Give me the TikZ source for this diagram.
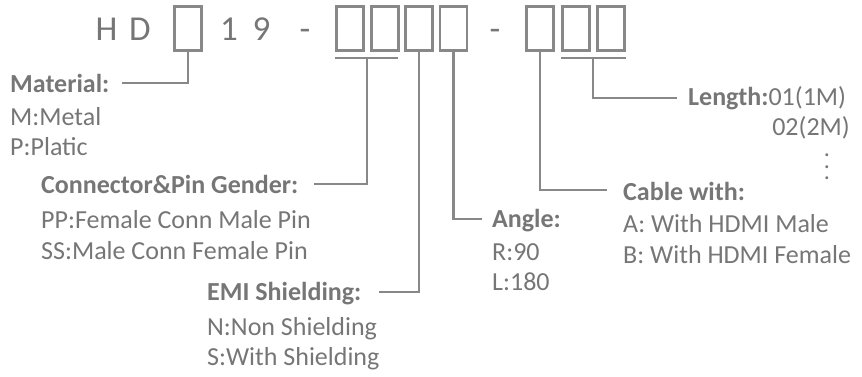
\documentclass[tikz,border=0pt]{standalone}
\usepackage{fontspec}
\setmainfont{Carlito}
\usetikzlibrary{positioning}
\definecolor{codegray}{HTML}{767676}
\definecolor{linegray}{HTML}{888888}

\tikzset{
  slot/.style={draw=linegray, line width=2.8pt, minimum width=27pt, minimum height=44pt, inner sep=0pt},
  lead/.style={draw=linegray, line width=2.2pt},
  code/.style={text=codegray, font=\fontsize{35}{35}\selectfont, inner sep=0pt, anchor=base},
  head/.style={text=codegray, font=\fontsize{26}{30}\selectfont\bfseries, inner sep=0pt, anchor=base west},
  item/.style={text=codegray, font=\fontsize{26}{30}\selectfont, inner sep=0pt, anchor=base west},
}

\begin{document}
\begin{tikzpicture}[x=1pt,y=-1pt]
    \useasboundingbox (0,0) rectangle (862,376);
    % part number
    \node[code] (h) at (106.5,40) {H};
    \node[code] (d) at (140,40) {D};
    \node[code] (one) at (229,40) {1};
    \node[code] (nine) at (261.5,40) {9};
    \node[code] (dashA) at (305,40) {-};
    \node[code] (dashB) at (495,40) {-};
    \node[slot] (b0) at (188,28.5) {};
    \node[slot] (a1) at (350,28.5) {};
    \node[slot] (a2) at (385,28.5) {};
    \node[slot] (a3) at (419,28.5) {};
    \node[slot] (a4) at (453.5,28.5) {};
    \node[slot] (c1) at (540,28.5) {};
    \node[slot] (c2) at (576,28.5) {};
    \node[slot] (c3) at (611,28.5) {};
    % underlines for the double slots
    \coordinate (ua) at (367,58);
    \coordinate (uc) at (593,58);
    \draw[lead] (335,58) -- (398,58);
    \draw[lead] (561,58) -- (626,58);

    % Material
    \node[head] (mat) at (10,92) {Material:};
    \node[item] (mat1) at (10,125) {M:Metal};
    \node[item] (mat2) at (10,155) {P:Platic};
    % Connector & pin gender
    \node[head] (conn) at (41,193) {Connector\&Pin Gender:};
    \node[item] (conn1) at (41,228) {PP:Female Conn Male Pin};
    \node[item] (conn2) at (41,259) {SS:Male Conn Female Pin};
    % EMI shielding
    \node[head] (emi) at (207,300) {EMI Shielding:};
    \node[item] (emi1) at (207,335) {N:Non Shielding};
    \node[item] (emi2) at (207,365) {S:With Shielding};
    % Angle
    \node[head] (ang) at (492,227) {Angle:};
    \node[item] (ang1) at (492,260) {R:90};
    \node[item] (ang2) at (492,290) {L:180};
    % Cable
    \node[head] (cab) at (623,200) {Cable with:};
    \node[item] (cab1) at (623,232) {A: With HDMI Male};
    \node[item] (cab2) at (623,263) {B: With HDMI Female};
    % Length
    \node[item] (len) at (688,105) {\textbf{Length:}01(1M)};
    \node[item, anchor=base east] (len1) at (850,135) {02(2M)};
    \node[item, anchor=center, align=center, font=\fontsize{24}{11.5}\selectfont] (len2) at (827,167) {.\\.\\.};

    % leader lines
    \draw[lead] (b0.south) |- ([xshift=12pt,yshift=9pt]mat.base east);
    \draw[lead] (ua) |- ([xshift=16pt,yshift=9pt]conn.base east);
    \draw[lead] (a3.south) |- ([xshift=17pt,yshift=8pt]emi.base east);
    \draw[lead] (a4.south) |- ([xshift=-10pt,yshift=8pt]ang.base west);
    \draw[lead] (c1.south) |- ([xshift=-16pt,yshift=10pt]cab.base west);
    \draw[lead] (uc) |- ([xshift=-11pt,yshift=7pt]len.base west);
\end{tikzpicture}
\end{document}
